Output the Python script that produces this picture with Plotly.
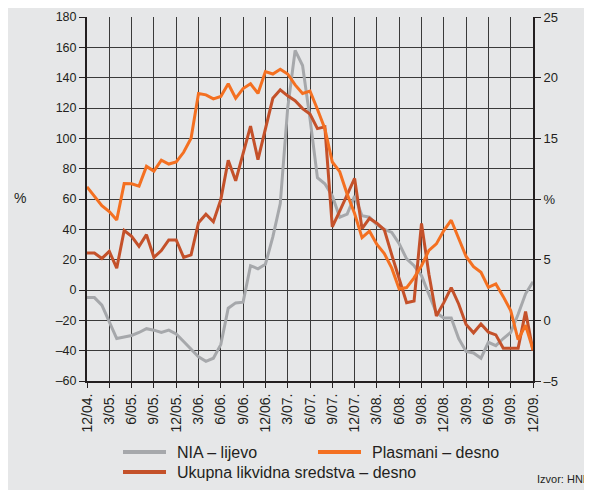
import plotly.graph_objects as go

# Months from 12/04 to 12/09 (index 0..60)
months = list(range(61))
tick_pos = list(range(0, 61, 3))
tick_labels = ["12/04.", "3/05.", "6/05.", "9/05.", "12/05.", "3/06.", "6/06.", "9/06.",
               "12/06.", "3/07.", "6/07.", "9/07.", "12/07.", "3/08.", "6/08.", "9/08.",
               "12/08.", "3/09.", "6/09.", "9/09.", "12/09."]

# NIA – lijevo (left axis, %)
nia = [-5, -5, -10, -21, -32, -31, -30, -28, -25.5, -26.5,
       -28, -26.5, -29, -34, -39, -44, -47, -45, -36, -12,
       -8.5, -8, 16, 14, 17, 35, 57, 120, 158, 148,
       113, 74, 70, 62, 48, 50, 62, 49, 48, 43,
       40, 38, 30.5, 20.5, 16, 9.5, -3, -15, -18.5, -18.5,
       -32, -40.5, -41.5, -45, -34.5, -36.7, -32, -28, -16, -2.5,
       5.5]

# Plasmani – desno (right axis, %)
plasmani = [11.0, 10.2, 9.44, 8.96, 8.27, 11.27, 11.25, 11.06, 12.69, 12.3,
            13.2, 12.88, 13.05, 13.85, 15.0, 18.7, 18.58, 18.25, 18.45, 19.5,
            18.3, 19.1, 19.5, 18.7, 20.5, 20.3, 20.7, 20.3, 19.4, 18.7,
            18.9, 17.4, 15.8, 13.05, 12.25, 10.4, 8.8, 6.82, 7.35, 6.25,
            5.5, 4.3, 2.58, 2.7, 3.5, 4.5, 5.76, 6.3, 7.4, 8.25,
            6.7, 5.26, 4.43, 3.96, 2.72, 3.0, 1.95, 0.8, -1.6, -0.4,
            -2.4]

# Ukupna likvidna sredstva – desno (right axis, %)
ukupna = [5.55, 5.55, 5.1, 5.68, 4.3, 7.4, 6.92, 6.1, 7.06, 5.19,
          5.75, 6.63, 6.62, 5.19, 5.4, 8.05, 8.75, 8.13, 9.95, 13.2,
          11.5, 13.7, 16.0, 13.24, 15.7, 18.3, 19.0, 18.5, 18.1, 17.45,
          17.0, 15.8, 15.95, 7.7, 9.0, 10.3, 11.7, 7.55, 8.4, 8.0,
          7.45, 5.4, 3.5, 1.46, 1.6, 7.98, 3.8, 0.35, 1.46, 2.7,
          1.35, -0.34, -1.03, -0.3, -0.97, -1.2, -2.3, -2.3, -2.3, 0.72,
          -2.5]

left_ticks = list(range(-60, 181, 20))
left_labels = [("–" + str(-v)) if v < 0 else str(v) for v in left_ticks]
right_ticks = list(range(-5, 26, 5))
right_labels = [("–" + str(-v)) if v < 0 else ("%" if v == 10 else str(v)) for v in right_ticks]

BG = "#e6e7e8"
TXT = "#231f20"
C_NIA = "#a6a8ab"
C_PLA = "#f47021"
C_UKU = "#c4512a"

# The page body adds an 8 px offset; work in screen pixels and convert.
OFF = 8
W, H = 592 - OFF, 490 - OFF
PLOT_L, PLOT_R, PLOT_T, PLOT_B = 87, 533, 17, 381          # screen pixels
L, T = PLOT_L - OFF, PLOT_T - OFF
R, B = W - (PLOT_R - OFF), H - (PLOT_B - OFF)
PW, PH = W - L - R, H - T - B


def px_x(x):
    return (x - OFF - L) / PW


def px_y(y):
    return (H - B - (y - OFF)) / PH


fig = go.Figure()
fig.add_trace(go.Scatter(x=months, y=nia, mode="lines", name="NIA – lijevo",
                         line=dict(color=C_NIA, width=3), yaxis="y"))
fig.add_trace(go.Scatter(x=months, y=ukupna, mode="lines", name="Ukupna likvidna sredstva – desno",
                         line=dict(color=C_UKU, width=3), yaxis="y2"))
fig.add_trace(go.Scatter(x=months, y=plasmani, mode="lines", name="Plasmani – desno",
                         line=dict(color=C_PLA, width=3), yaxis="y2"))

fig.update_layout(
    width=W, height=H,
    margin=dict(l=L, r=R, t=T, b=B, autoexpand=False),
    paper_bgcolor=BG, plot_bgcolor=BG,
    font=dict(family="Liberation Sans, Arial, sans-serif", color=TXT, size=12),
    showlegend=False,
    xaxis=dict(range=[0, 60], tickmode="array", tickvals=tick_pos, ticktext=tick_labels,
               tickangle=-90, tickfont=dict(size=14, color=TXT),
               showgrid=True, gridcolor="#3a3a3a", gridwidth=1,
               showline=True, linecolor=TXT, linewidth=2,
               ticks="outside", ticklen=5, tickcolor=TXT, tickwidth=1,
               zeroline=False, automargin=False),
    yaxis=dict(range=[-60, 180], tickmode="array", tickvals=left_ticks, ticktext=left_labels,
               tickfont=dict(size=12.5, color=TXT),
               showgrid=True, gridcolor="#3a3a3a", gridwidth=1,
               showline=True, linecolor=TXT, linewidth=2,
               ticks="outside", ticklen=6, tickcolor=TXT, tickwidth=1,
               zeroline=False, automargin=False),
    yaxis2=dict(range=[-5, 25], overlaying="y", side="right", tickmode="array",
                tickvals=right_ticks, ticktext=right_labels,
                tickfont=dict(size=13, color=TXT),
                showgrid=False, showline=True, linecolor=TXT, linewidth=2,
                ticks="outside", ticklen=6, tickcolor=TXT, tickwidth=1,
                zeroline=False, automargin=False),
)

# left "%" axis title
fig.add_annotation(text="%", xref="paper", yref="paper", x=px_x(20), y=px_y(198),
                   showarrow=False, font=dict(size=14, color=TXT), xanchor="center")

# hand-made legend (two rows)
legend_items = [
    ("NIA – lijevo", C_NIA, 123, 452),
    ("Plasmani – desno", C_PLA, 318, 452),
    ("Ukupna likvidna sredstva – desno", C_UKU, 123, 472),
]
for label, col, lx, ly in legend_items:
    fig.add_shape(type="line", xref="paper", yref="paper",
                  x0=px_x(lx), x1=px_x(lx + 43), y0=px_y(ly), y1=px_y(ly),
                  line=dict(color=col, width=4))
    fig.add_annotation(text=label, xref="paper", yref="paper",
                       x=px_x(lx + 52), y=px_y(ly), showarrow=False,
                       xanchor="left", yanchor="middle",
                       font=dict(size=16, color=TXT))

fig.add_annotation(text="Izvor: HNB", xref="paper", yref="paper",
                   x=px_x(535), y=px_y(479),
                   showarrow=False, font=dict(size=11, color=TXT),
                   xanchor="left", yanchor="middle")

fig.write_html("out.html")
